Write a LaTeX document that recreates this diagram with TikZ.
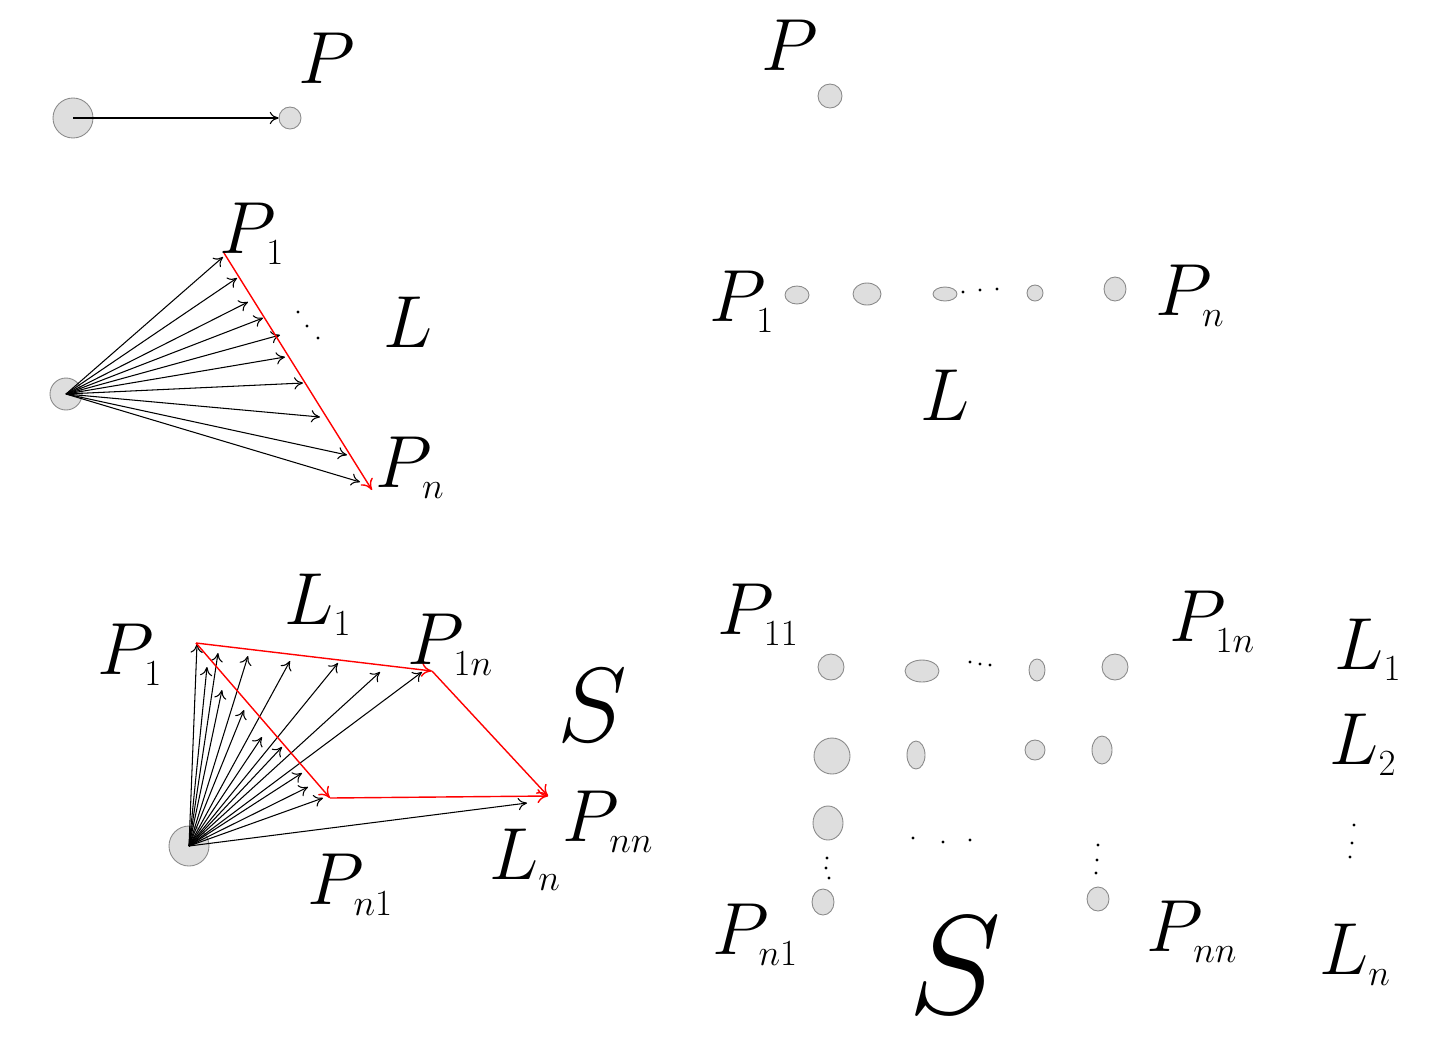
\RequirePackage{fix-cm}
\documentclass[tikz,border=0pt]{standalone}
\usepackage{amsmath,amssymb}
\usetikzlibrary{arrows.meta,positioning,shapes.geometric}
\definecolor{DotGray}{HTML}{DEDEDE}
\definecolor{Rim}{HTML}{8A8A8A}
\newcommand{\lo}[1]{_{\scriptscriptstyle #1}}

\tikzset{
  blob/.style 2 args={ellipse,draw=Rim,fill=DotGray,line width=0.5pt,inner sep=0pt,
    minimum width=#1*0.2mm,minimum height=#2*0.2mm},
  src/.style={circle,draw=Rim,fill=DotGray,line width=0.5pt,inner sep=0pt,minimum size=#1*0.2mm},
  vec/.style={-{To[length=5pt,width=7pt]},line width=0.6pt},
  redvec/.style={-{To[length=6pt,width=8pt]},red,line width=0.8pt},
  lab/.style={inner sep=0pt,font=\fontsize{42}{46}\selectfont},
  biglab/.style={inner sep=0pt,font=\fontsize{#1}{#1}\selectfont},
}

\begin{document}
\begin{tikzpicture}[x=0.2mm,y=-0.2mm]
    \useasboundingbox (0,0) rectangle (1440,1059);

    % one point
    \node[src=40] (o1) at (73,118) {};
    \node[blob={22}{22}] (p) at (290,118) {};
    \draw[vec] (o1.center) -- (p);
    \node[lab] (lP) at (327,58) {$P$};

    \node[lab] (rP) at (790,45) {$P$};
    \node[blob={24}{24}] (rp) at (830,96) {};

    % a line of points
    \node[src=32] (o2) at (66,394) {};
    \coordinate (a1) at (224,253);
    \coordinate (an) at (372,490);
    \foreach \i/\x/\y in {1/223/257,2/237/278,3/248/302,4/263/318,5/280/335,
                          6/285/357,7/303/383,8/320/417,9/347/455,10/360/482}{
      \coordinate (f\i) at (\x,\y);
      \draw[vec] (o2.center) -- (f\i);
    }
    \draw[redvec] (a1) -- (an);
    \node[lab] (lP1) at (252,234) {$P\lo{1}$};
    \node[lab] (lL) at (408,322) {$L$};
    \node[lab] (lPn) at (410,468) {$P\lo{n}$};

    \node[blob={24}{18}] (m1) at (797,295) {};
    \node[blob={28}{22}] (m2) at (867,294) {};
    \node[blob={24}{14}] (m3) at (945,294) {};
    \node[blob={16}{16}] (m4) at (1035,293) {};
    \node[blob={22}{24}] (m5) at (1115,289) {};
    \node[lab] (rP1) at (742,302) {$P\lo{1}$};
    \node[lab] (rPn) at (1190,296) {$P\lo{n}$};
    \node[lab] (rL) at (945,395) {$L$};

    % a sheet of points
    \node[src=40] (o3) at (189,846) {};
    \coordinate (q11) at (196,643);
    \coordinate (q1n) at (432,671);
    \coordinate (qn1) at (330,798);
    \coordinate (qnn) at (548,796);
    \foreach \i/\x/\y in {1/197/644,2/207/667,3/218/653,4/222/690,5/248/656,6/244/710,
                          7/290/661,8/262/737,9/338/663,10/282/747,11/380/672,12/302/773,
                          13/422/672,14/308/787,15/323/798,16/527/803}{
      \coordinate (g\i) at (\x,\y);
      \draw[vec] (o3.center) -- (g\i);
    }
    \draw[redvec] (q11) -- (qn1);
    \draw[redvec] (q11) -- (q1n);
    \draw[redvec] (q1n) -- (qnn);
    \draw[redvec] (qn1) -- (qnn);
    \node[lab] (sP1) at (130,655) {$P\lo{1}$};
    \node[lab] (sL1) at (318,605) {$L\lo{1}$};
    \node[lab] (sP1n) at (450,645) {$P\lo{1n}$};
    \node[biglab=60] (sS) at (592,705) {$S$};
    \node[lab] (sPnn) at (608,822) {$P\lo{nn}$};
    \node[lab] (sLn) at (525,860) {$L\lo{n}$};
    \node[lab] (sPn1) at (350,885) {$P\lo{n1}$};

    \node[blob={26}{26}] (c11) at (831,667) {};
    \node[blob={34}{22}] (c12) at (922,671) {};
    \node[blob={16}{22}] (c13) at (1037,670) {};
    \node[blob={26}{26}] (c14) at (1115,667) {};
    \node[blob={36}{36}] (c21) at (832,756) {};
    \node[blob={18}{28}] (c22) at (916,755) {};
    \node[blob={20}{20}] (c23) at (1035,750) {};
    \node[blob={20}{28}] (c24) at (1102,750) {};
    \node[blob={30}{34}] (c31) at (828,823) {};
    \node[blob={22}{26}] (c41) at (823,902) {};
    \node[blob={22}{24}] (c44) at (1098,899) {};
    \node[lab] (gP11) at (758,615) {$P\lo{11}$};
    \node[lab] (gP1n) at (1212,622) {$P\lo{1n}$};
    \node[lab] (gL1) at (1368,650) {$L\lo{1}$};
    \node[lab] (gL2) at (1363,745) {$L\lo{2}$};
    \node[lab] (gLn) at (1355,955) {$L\lo{n}$};
    \node[lab] (gPn1) at (755,935) {$P\lo{n1}$};
    \node[lab] (gPnn) at (1192,932) {$P\lo{nn}$};
    \node[biglab=80] (gS) at (955,965) {$S$};

    % ellipsis marks
    \foreach \x/\y in {298/312,307/326,318/338, 963/292,980/290,997/289,
                       970/662,980/664,990/665, 913/838,943/842,970/840,
                       827/858,826/868,829/878, 1098/845,1097/860,1096/873,
                       1354/825,1352/843,1350/857}
      \fill (\x,\y) circle (1.6);
\end{tikzpicture}
\end{document}
